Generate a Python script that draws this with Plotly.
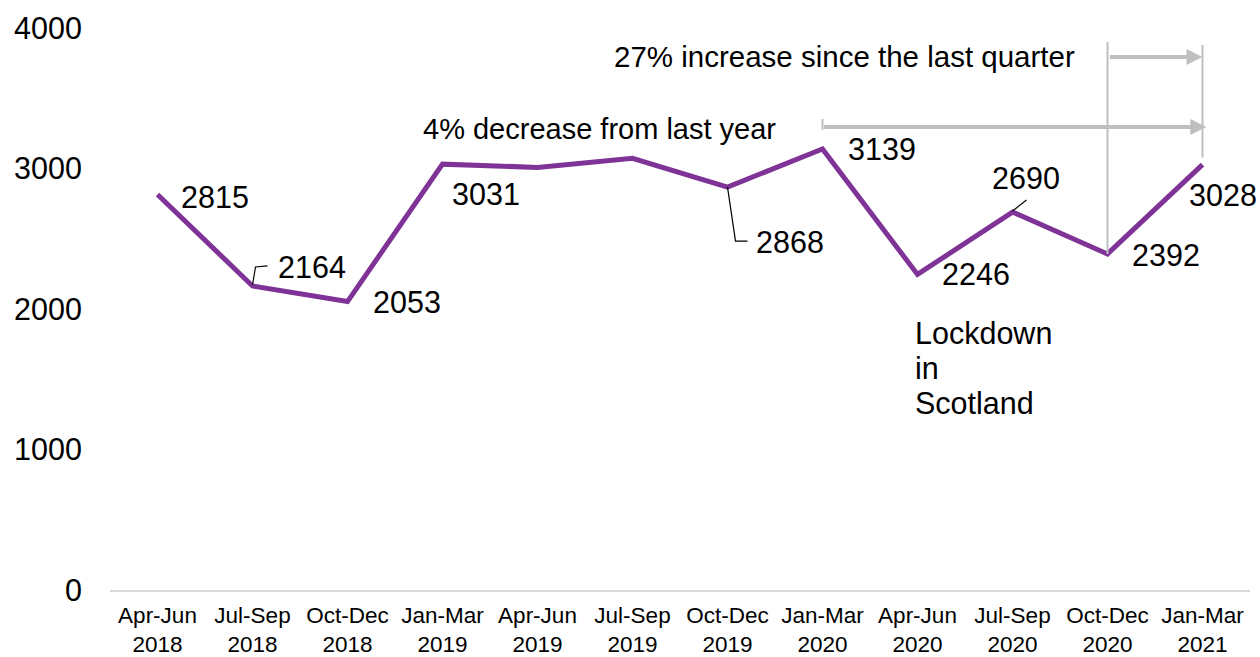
import plotly.graph_objects as go

quarters = ["Apr-Jun<br>2018", "Jul-Sep<br>2018", "Oct-Dec<br>2018", "Jan-Mar<br>2019",
            "Apr-Jun<br>2019", "Jul-Sep<br>2019", "Oct-Dec<br>2019", "Jan-Mar<br>2020",
            "Apr-Jun<br>2020", "Jul-Sep<br>2020", "Oct-Dec<br>2020", "Jan-Mar<br>2021"]
values = [2815, 2164, 2053, 3031, 3008, 3072, 2868, 3139, 2246, 2690, 2392, 3028]
labelled = [0, 1, 2, 3, 6, 7, 8, 9, 10, 11]
y_ticks = [0, 1000, 2000, 3000, 4000]
lockdown_lines = ["Lockdown", "in", "Scotland"]

FONT = "Liberation Sans, Arial, sans-serif"
PURPLE = "#7F3396"
GREY = "#BFBFBF"
NUM_SIZE = 30.5

xs = list(range(len(values)))

fig = go.Figure()
fig.add_trace(go.Scatter(x=xs, y=values, mode="lines",
                         line=dict(color=PURPLE, width=5), hoverinfo="skip"))

# data label offsets (pixels)
offsets = {0: (57, -3), 1: (59, 19), 2: (59, 0), 3: (43, -30), 6: (62, -55),
           7: (59, 0), 8: (58, 0), 9: (13, 34), 10: (58, -1), 11: (20, -30)}
for i in labelled:
    dx, dy = offsets[i]
    fig.add_annotation(x=i, y=values[i], text=str(values[i]), showarrow=False,
                       xshift=dx, yshift=dy, borderpad=0,
                       font=dict(family=FONT, size=NUM_SIZE, color="black"))

# leader lines (pixel offsets from the data point, y up)
leaders = {1: "M0,1 L3,19 L15,20", 6: "M0,0 L8,-54 L20,-54", 9: "M0,1 L14,12"}
for i, p in leaders.items():
    fig.add_shape(type="path", path=p, xref="x", yref="y",
                  xsizemode="pixel", ysizemode="pixel", xanchor=i, yanchor=values[i],
                  line=dict(color="black", width=1.2))

# comparison arrows
y_arrow_year = 3295
y_arrow_q = 3794
fig.add_annotation(x=11.04, y=y_arrow_year, ax=7, ay=y_arrow_year, xref="x", yref="y",
                   axref="x", ayref="y", text="", showarrow=True, arrowhead=2,
                   arrowsize=0.8, arrowwidth=4, arrowcolor=GREY, standoff=0)
fig.add_annotation(x=11.0, y=y_arrow_q, ax=10.01, ay=y_arrow_q, xref="x", yref="y",
                   axref="x", ayref="y", text="", showarrow=True, arrowhead=2,
                   arrowsize=0.8, arrowwidth=4, arrowcolor=GREY, standoff=0)
fig.add_shape(type="line", x0=7, x1=7, y0=3274, y1=3352, xref="x", yref="y",
              line=dict(color=GREY, width=2))
fig.add_shape(type="line", x0=10, x1=10, y0=values[10], y1=3900, xref="x", yref="y",
              line=dict(color=GREY, width=2))
fig.add_shape(type="line", x0=11, x1=11, y0=values[11] + 50, y1=3880, xref="x", yref="y",
              line=dict(color=GREY, width=2))

fig.add_annotation(x=7, y=y_arrow_year, xanchor="right", xshift=-46, yshift=-2,
                   text="4% decrease from last year", showarrow=False, borderpad=0,
                   font=dict(family=FONT, size=29, color="black"))
fig.add_annotation(x=10, y=y_arrow_q, xanchor="right", xshift=-32,
                   text="27% increase since the last quarter", showarrow=False, borderpad=0,
                   font=dict(family=FONT, size=29.5, color="black"))
for k, line in enumerate(lockdown_lines):
    fig.add_annotation(x=8, y=1800, xanchor="left", yanchor="middle", xshift=-4,
                       yshift=4 - 35 * k, text=line, showarrow=False, borderpad=0,
                       font=dict(family=FONT, size=30.5, color="black"))

fig.update_layout(
    width=1260, height=657,
    margin=dict(l=110, r=10, t=28, b=67),
    paper_bgcolor="white", plot_bgcolor="white",
    showlegend=False,
    font=dict(family=FONT, color="black"),
)
fig.update_xaxes(range=[-0.5, 11.5], tickvals=xs, ticktext=quarters,
                 showgrid=False, zeroline=False, showline=True, automargin=False,
                 linecolor="#D9D9D9", linewidth=1.5, ticks="outside", ticklen=4,
                 tickcolor="rgba(0,0,0,0)",
                 tickfont=dict(family=FONT, size=22.5, color="black"))
fig.update_yaxes(range=[0, 4000], tickvals=y_ticks, showgrid=False, zeroline=False,
                 showline=False, ticks="outside", ticklen=21, tickcolor="rgba(0,0,0,0)",
                 automargin=False,
                 tickfont=dict(family=FONT, size=NUM_SIZE, color="black"))

fig.write_html("out.html", config={"displayModeBar": False},
               post_script="document.body.style.margin='0';")
